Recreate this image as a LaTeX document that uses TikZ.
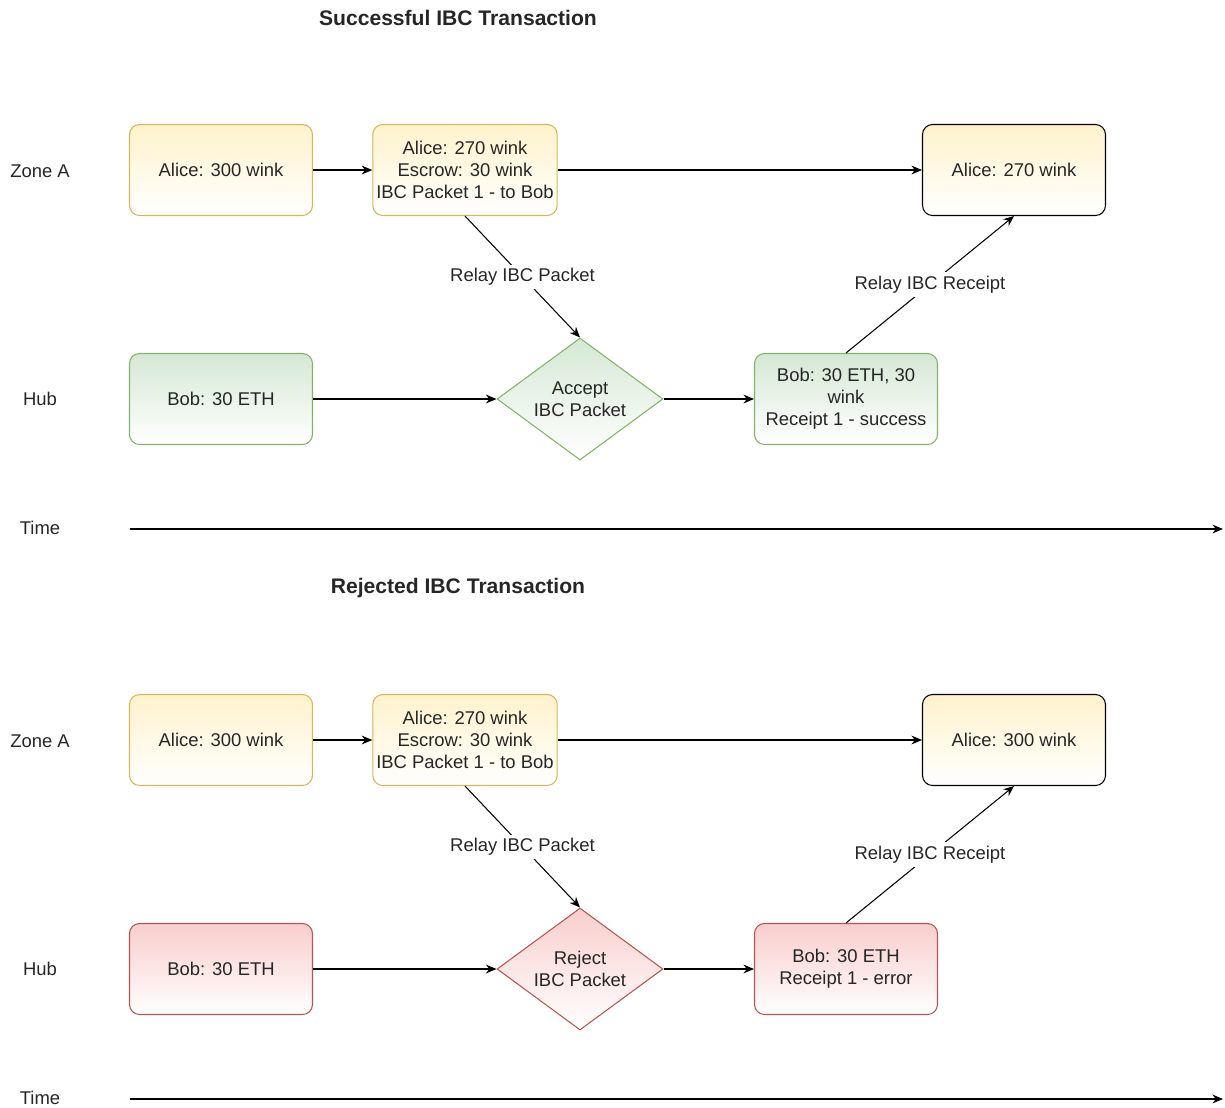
\documentclass[tikz,border=0pt]{standalone}
\usepackage{fontspec}
\setmainfont{Liberation Sans}
\usetikzlibrary{arrows.meta,shapes.geometric}
\definecolor{yfill}{HTML}{FFF2CC}
\definecolor{ydraw}{HTML}{D6B656}
\definecolor{gfill}{HTML}{D5E8D4}
\definecolor{gdraw}{HTML}{82B366}
\definecolor{rfill}{HTML}{F8CECC}
\definecolor{rdraw}{HTML}{B85450}
\tikzset{
  state/.style={rectangle, rounded corners=0.2cm, minimum width=3.66cm, minimum height=1.82cm, align=center, inner sep=2pt, line width=0.6pt, bottom color=white},
  zonebox/.style={state, draw=ydraw, top color=yfill},
  donebox/.style={state, draw=black, top color=yfill},
  goodbox/.style={state, draw=gdraw, top color=gfill},
  badbox/.style={state, draw=rdraw, top color=rfill},
  check/.style={diamond, aspect=1.36, minimum width=3.32cm, minimum height=2.44cm, inner sep=0pt, align=center, line width=0.6pt, bottom color=white},
  flow/.style={-{Stealth[length=6pt,width=5pt]}, line width=0.6pt},
  relay/.style={fill=white, inner sep=2pt},
  heading/.style={font=\bfseries\fontsize{12}{14}\selectfont}
}

\begin{document}
\begin{tikzpicture}[x=0.02cm, y=-0.02cm, font=\fontsize{10.5}{12.5}\selectfont, text=black!85]
  \useasboundingbox (0,0) rectangle (1225,1107);

  %%%%% SUCCESSFUL %%%%%
  \node[heading] (t1) at (458,18) {Successful IBC Transaction};
  \node (za1) at (40,171) {Zone A};
  \node (hb1) at (40,399) {Hub};
  \node (tm1) at (40,528) {Time};

  \node[zonebox] (a1) at (221,170) {Alice: 300 wink};
  \node[zonebox] (e1) at (465,170) {Alice: 270 wink\\Escrow: 30 wink\\IBC Packet 1 - to Bob};
  \node[donebox] (f1) at (1014,170) {Alice: 270 wink};
  \node[goodbox] (b1) at (221,399) {Bob: 30 ETH};
  \node[check, draw=gdraw, top color=gfill] (d1) at (580,399) {Accept\\IBC Packet};
  \node[goodbox] (r1) at (846,399) {Bob: 30 ETH, 30\\wink\\Receipt 1 - success};
  \coordinate (ts1) at (130,529);
  \coordinate (te1) at (1223,529);

  \draw[flow] (a1) -- (e1);
  \draw[flow] (e1) -- (f1);
  \draw[flow] (b1) -- (d1);
  \draw[flow] (d1) -- (r1);
  \draw[flow] (e1.south) -- node[relay] {Relay IBC Packet} (d1.north);
  \draw[flow] (r1.north) -- node[relay] {Relay IBC Receipt} (f1.south);
  \draw[flow] (ts1) -- (te1);

  %%%%% REJECTED %%%%%
  \node[heading] (t2) at (458,588) {Rejected IBC Transaction};
  \node (za2) at (40,741) {Zone A};
  \node (hb2) at (40,969) {Hub};
  \node (tm2) at (40,1098) {Time};

  \node[zonebox] (a2) at (221,740) {Alice: 300 wink};
  \node[zonebox] (e2) at (465,740) {Alice: 270 wink\\Escrow: 30 wink\\IBC Packet 1 - to Bob};
  \node[donebox] (f2) at (1014,740) {Alice: 300 wink};
  \node[badbox] (b2) at (221,969) {Bob: 30 ETH};
  \node[check, draw=rdraw, top color=rfill] (d2) at (580,969) {Reject\\IBC Packet};
  \node[badbox] (r2) at (846,969) {Bob: 30 ETH\\Receipt 1 - error};
  \coordinate (ts2) at (130,1099);
  \coordinate (te2) at (1223,1099);

  \draw[flow] (a2) -- (e2);
  \draw[flow] (e2) -- (f2);
  \draw[flow] (b2) -- (d2);
  \draw[flow] (d2) -- (r2);
  \draw[flow] (e2.south) -- node[relay] {Relay IBC Packet} (d2.north);
  \draw[flow] (r2.north) -- node[relay] {Relay IBC Receipt} (f2.south);
  \draw[flow] (ts2) -- (te2);
\end{tikzpicture}
\end{document}
